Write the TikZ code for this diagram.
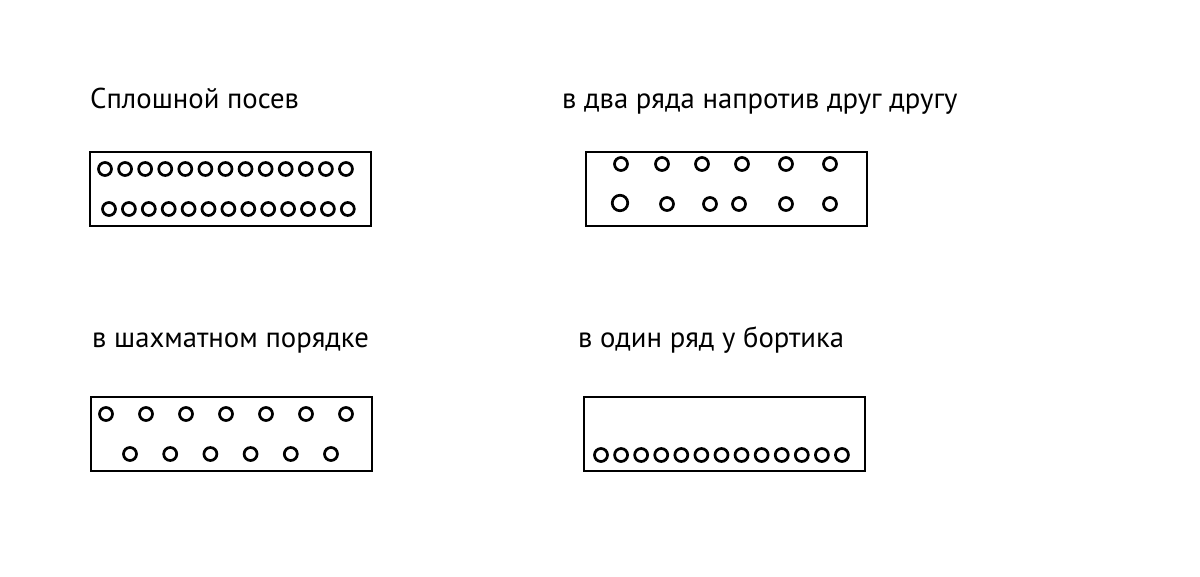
\documentclass[tikz,border=0pt]{standalone}
\usepackage{fontspec}
\setmainfont{PT Sans}
\usetikzlibrary{positioning}
\begin{document}
\begin{tikzpicture}[x=1pt,y=-1pt,
	bed label/.style={font=\fontsize{28.7}{32}\selectfont,anchor=base west,inner sep=0pt},
	bed/.style={draw,line width=2pt,anchor=north west,inner sep=0pt,
		minimum width=281pt,minimum height=74pt},
	hole/.style={circle,draw,line width=2.7pt,minimum size=13pt,inner sep=0pt}]
	
	\useasboundingbox (0,0) rectangle (1200,576);
	
	% labels
	\node[bed label] (solid) at (90,108) {Сплошной посев};
	\node[bed label] (tworow) at (562,108) {в два ряда напротив друг другу};
	\node[bed label] (chess) at (92,347) {в шахматном порядке};
	\node[bed label] (border) at (578,347) {в один ряд у бортика};
	
	% beds
	\node[bed] (solidbed) at (89,151) {};
	\node[bed] (tworowbed) at (585,151) {};
	\node[bed] (chessbed) at (90,396) {};
	\node[bed] (borderbed) at (583,396) {};
	
	% holes
	\foreach \i in {0,...,12}{
		\node[hole] (s1\i) at (105+20.08*\i,169) {};
		\node[hole] (s2\i) at (109+19.9*\i,209) {};
		\node[hole] (b\i) at (601+20.08*\i,455) {};
	}
	\foreach \x [count=\i] in {621,662,702,742,786,830}
		\node[hole] (t1\i) at (\x,164) {};
	\node[hole,minimum size=15.5pt] (t21) at (620,203) {};
	\foreach \x [count=\i from 2] in {667,710,739,786,830}
		\node[hole] (t2\i) at (\x,204) {};
	\foreach \i in {0,...,6}
		\node[hole] (c1\i) at (106+40*\i,414) {};
	\foreach \i in {0,...,5}
		\node[hole] (c2\i) at (130+40.2*\i,454) {};
	
\end{tikzpicture}
\end{document}
